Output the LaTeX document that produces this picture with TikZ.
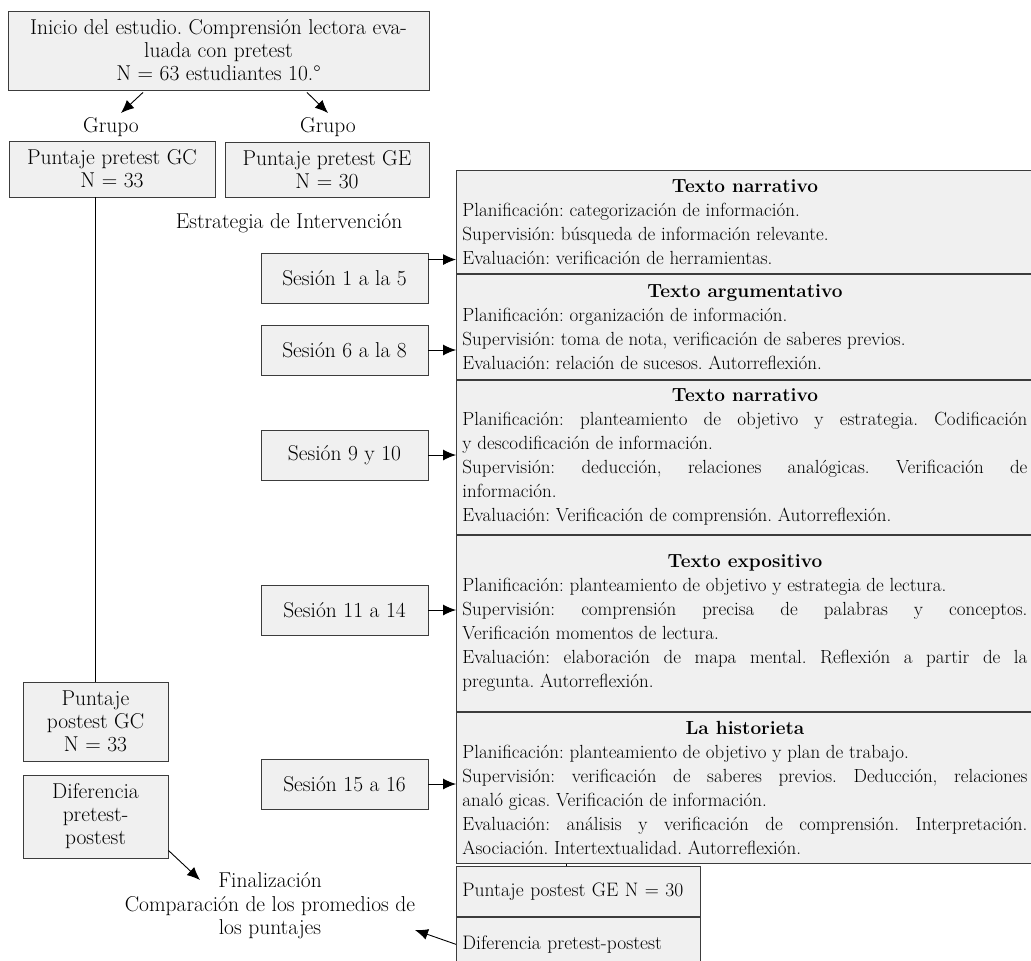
\documentclass[tikz,border=0pt]{standalone}
\usetikzlibrary{positioning,arrows.meta}
\setlength{\parindent}{0pt}
\frenchspacing
\definecolor{boxfill}{HTML}{F0F0F0}
\definecolor{boxline}{HTML}{3C3C3C}
\tikzstyle{block} = [rectangle, draw=boxline, fill=boxfill, align=center, inner sep=0pt, line width=0.9pt, font=\fontsize{21.5}{23}\selectfont]
\tikzstyle{session} = [block, minimum width=167pt, minimum height=50pt]
\tikzstyle{panel} = [rectangle, draw=boxline, fill=boxfill, text width=565pt, align=justify, inner sep=6pt, line width=0.9pt, font=\fontsize{19}{24}\selectfont]
\tikzstyle{gebox} = [rectangle, draw=boxline, fill=boxfill, text width=232pt, align=left, inner sep=6pt, line width=0.9pt, font=\fontsize{19.5}{24}\selectfont]
\tikzstyle{plain} = [align=center, inner sep=2pt, font=\fontsize{21.5}{23.5}\selectfont]
\tikzstyle{line} = [draw, line width=0.9pt, -{Latex[length=13pt,width=11pt]}]

\begin{document}
\begin{tikzpicture}[x=1pt, y=-1pt, node distance=0pt]
	\useasboundingbox (0,0) rectangle (1031,961);
	% left column
	\node[block, minimum width=421pt, minimum height=79pt] (ini) at (218.5,50.5) {Inicio del estudio. Comprensión lectora eva-\\luada con pretest\\N = 63 estudiantes 10.°};
	\node[plain] (gc) at (111,127) {Grupo};
	\node[plain] (ge) at (328,127) {Grupo};
	\node[block, minimum width=206pt, minimum height=56pt] (pgc) at (112,169) {Puntaje pretest GC\\N = 33};
	\node[block, minimum width=204pt, minimum height=55pt] (pge) at (327,169.5) {Puntaje pretest GE\\N = 30};
	\node[plain] (est) at (289,223) {Estrategia de Intervención};
	\node[block, minimum width=145pt, minimum height=79pt] (ogc) at (95.5,721.5) {Puntaje\\postest GC\\N = 33};
	\node[block, minimum width=145pt, minimum height=83pt] (dgc) at (95.5,816.5) {Diferencia\\pretest-\\postest};
	\node[plain] (fin) at (270,906) {Finalización\\Comparación de los promedios de\\los puntajes};

	% sessions
	\node[session] (s1) at (344.5,278) {Sesión 1 a la 5};
	\node[session] (s2) at (344.5,350) {Sesión 6 a la 8};
	\node[session] (s3) at (344.5,455) {Sesión 9 y 10};
	\node[session] (s4) at (344.5,610) {Sesión 11 a 14};
	\node[session] (s5) at (344.5,784) {Sesión 15 a 16};

	% strategy panels
	\node[panel, anchor=north west, minimum height=103pt] (p1) at (456,170) {\makebox[\linewidth]{\bfseries Texto narrativo}\\
		Planificación: categorización de información.\\
		Supervisión: búsqueda de información relevante.\\
		Evaluación: verificación de herramientas.};
	\node[panel, below=of p1, minimum height=105pt] (p2) {\makebox[\linewidth]{\bfseries Texto argumentativo}\\
		Planificación: organización de información.\\
		Supervisión: toma de nota, verificación de saberes previos.\\
		Evaluación: relación de sucesos. Autorreflexión.};
	\node[panel, below=of p2, minimum height=154pt] (p3) {\makebox[\linewidth]{\bfseries Texto narrativo}\\
		Planificación: planteamiento de objetivo y estrategia. Codificación\linebreak
		y descodificación de información.\\
		Supervisión: deducción, relaciones analógicas. Verificación de\linebreak
		información.\\
		Evaluación: Verificación de comprensión. Autorreflexión.};
	\node[panel, below=of p3, minimum height=176pt] (p4) {\makebox[\linewidth]{\bfseries Texto expositivo}\\
		Planificación: planteamiento de objetivo y estrategia de lectura.\\
		Supervisión: comprensión precisa de palabras y conceptos.\linebreak
		Verificación momentos de lectura.\\
		Evaluación: elaboración de mapa mental. Reflexión a partir de la\linebreak
		pregunta. Autorreflexión.};
	\node[panel, below=of p4, minimum height=151pt] (p5) {\makebox[\linewidth]{\bfseries La historieta}\\
		Planificación: planteamiento de objetivo y plan de trabajo.\\
		Supervisión: verificación de saberes previos. Deducción, relaciones\linebreak
		analó gicas. Verificación de información.\\
		Evaluación: análisis y verificación de comprensión. Interpretación.\linebreak
		Asociación. Intertextualidad. Autorreflexión.};
	\node[gebox, anchor=north west, minimum height=50pt] (oge) at (456,866) {Puntaje postest GE N = 30};
	\node[gebox, below=of oge, minimum height=54pt] (dge) {Diferencia pretest-postest};

	% connectors
	\path[line] ([xshift=-75.5pt,yshift=-2pt]ini.south) -- ([xshift=10pt,yshift=14pt]gc.center);
	\path[line] ([xshift=88.5pt,yshift=-2pt]ini.south) -- ([yshift=14pt]ge.center);
	\draw[line width=0.9pt] (ogc.north) -- (ogc.north |- pgc.south);
	\coordinate (a1) at ([yshift=-7pt]s1.north east);
	\path[line] (a1) -- (a1 -| p1.west);
	\path[line] (s2.east) -- (s2.east -| p2.west);
	\path[line] (s3.east) -- (s3.east -| p3.west);
	\path[line] (s4.east) -- (s4.east -| p4.west);
	\path[line] (s5.east) -- (s5.east -| p5.west);
	\draw[line width=0.9pt] ([xshift=-12pt]oge.north) -- ([xshift=-12pt]oge.north |- p5.south);
	\path[line] ([yshift=8pt]dgc.south east) -- ([xshift=-70pt,yshift=26pt]fin.center);
	\path[line] (dge.west) -- ([xshift=145pt,yshift=-24pt]fin.center);
\end{tikzpicture}
\end{document}
